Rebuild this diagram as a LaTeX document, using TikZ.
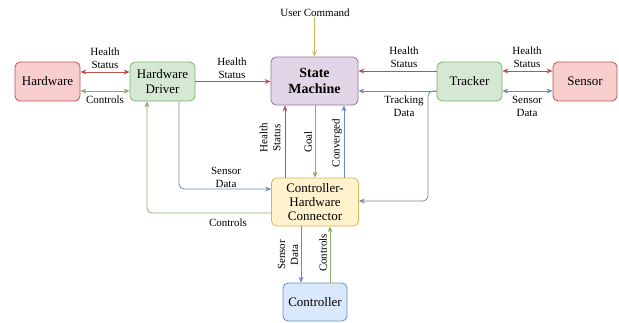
\documentclass[tikz,border=0pt]{standalone}
\usepackage{fontspec}
\setmainfont{Liberation Serif}
\usetikzlibrary{arrows.meta,calc}
\definecolor{redf}{HTML}{F8CECC}\definecolor{redd}{HTML}{B85450}
\definecolor{grnf}{HTML}{D5E8D4}\definecolor{grnd}{HTML}{82B366}
\definecolor{purf}{HTML}{E1D5E7}\definecolor{purd}{HTML}{9673A6}
\definecolor{yelf}{HTML}{FFF2CC}\definecolor{yeld}{HTML}{D6B656}
\definecolor{bluf}{HTML}{DAE8FC}\definecolor{blud}{HTML}{6C8EBF}
\begin{document}
\begin{tikzpicture}[x=1pt,y=-1pt,
  box/.style={draw, rounded corners=5pt, line width=0.8pt, align=center, inner sep=0pt,
    font=\fontsize{13}{14.5}\selectfont},
  lbl/.style={font=\fontsize{11}{13}\selectfont, align=center, inner sep=0pt},
  arr/.style={-{Stealth[length=6pt,width=5pt]}, line width=0.8pt, rounded corners=5pt},
  darr/.style={{Stealth[length=6pt,width=5pt]}-{Stealth[length=6pt,width=5pt]}, line width=0.8pt}]
\useasboundingbox (0,0) rectangle (619,322);
% nodes
\node[box, fill=redf, draw=redd, minimum width=65, minimum height=39] (hw) at (47.5,81.5) {Hardware};
\node[box, fill=grnf, draw=grnd, minimum width=65, minimum height=39] (drv) at (162.5,81.5) {Hardware\\Driver};
\node[box, fill=purf, draw=purd, minimum width=87, minimum height=48, font=\fontsize{14}{16}\selectfont\bfseries] (sm) at (314.5,81) {State\\Machine};
\node[box, fill=grnf, draw=grnd, minimum width=65, minimum height=39] (trk) at (469.5,81.5) {Tracker};
\node[box, fill=redf, draw=redd, minimum width=64, minimum height=39] (sen) at (585,81.5) {Sensor};
\node[box, fill=yelf, draw=yeld, minimum width=87, minimum height=48, font=\fontsize{13}{14}\selectfont] (con) at (315,202) {Controller-\\Hardware\\Connector};
\node[box, fill=bluf, draw=blud, minimum width=64, minimum height=38] (ctl) at (315,302) {Controller};
\node[lbl] (uc) at (315,13) {User Command};
% top row
\draw[darr, draw=redd] (hw.east |- 0,72) -- (drv.west |- 0,72);
\draw[darr, draw=grnd] (hw.east |- 0,91) -- (drv.west |- 0,91);
\node[lbl] at (105,58) {Health\\Status};
\node[lbl] at (105,100) {Controls};
\draw[arr, draw=redd] (drv.east |- 0,81.5) -- (sm.west |- 0,81.5);
\node[lbl] at (232,68) {Health\\Status};
\draw[arr, draw=redd] (trk.west |- 0,71) -- (sm.east |- 0,71);
\node[lbl] at (404,57) {Health\\Status};
\draw[arr, draw=blud] (trk.west |- 0,91) -- (sm.east |- 0,91);
\node[lbl] at (404,106) {Tracking\\Data};
\draw[darr, draw=redd] (trk.east |- 0,71) -- (sen.west |- 0,71);
\node[lbl] at (527,57) {Health\\Status};
\draw[darr, draw=blud] (trk.east |- 0,91) -- (sen.west |- 0,91);
\node[lbl] at (527,106) {Sensor\\Data};
\draw[arr, draw=yeld] (uc.south -| sm.north) -- (sm.north);
% SM <-> connector
\draw[arr, draw=redd] (con.north -| 285,0) -- (sm.south -| 285,0);
\node[lbl, rotate=90] at (270,138) {Health\\Status};
\draw[arr, draw=grnd] (sm.south -| 315,0) -- (con.north -| 315,0);
\node[lbl, rotate=90] at (308,142) {Goal};
\draw[arr, draw=blud] (con.north -| 344,0) -- (sm.south -| 344,0);
\node[lbl, rotate=90] at (337,143) {Converged};
% driver <-> connector
\draw[arr, draw=blud] (drv.south -| 179,0) |- (con.west |- 0,189);
\node[lbl] at (226,177) {Sensor\\Data};
\draw[arr, draw=grnd] (con.west |- 0,213) -| (drv.south -| 147,0);
\node[lbl] at (228,223) {Controls};
% tracker -> connector
\draw[arr, draw=blud] (trk.west |- 0,91) -| (428,201) -- (con.east |- 0,201);
% connector <-> controller
\draw[arr, draw=blud] (con.south -| 301,0) -- (ctl.north -| 301,0);
\node[lbl, rotate=90] at (288,255) {Sensor\\Data};
\draw[arr, draw=grnd] (ctl.north -| 330,0) -- (con.south -| 330,0);
\node[lbl, rotate=90] at (323,253) {Controls};
\end{tikzpicture}
\end{document}
